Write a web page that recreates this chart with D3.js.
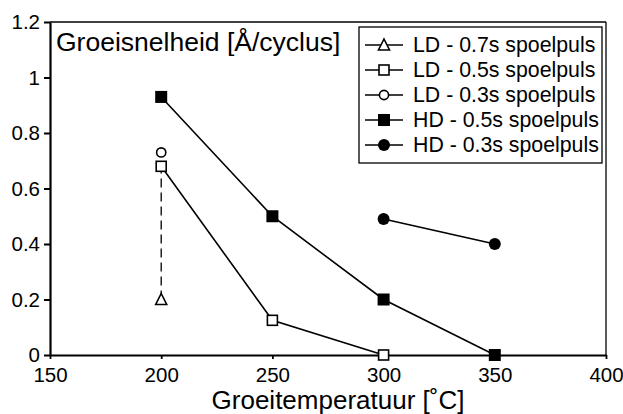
<!DOCTYPE html>
<html>
<head>
<meta charset="utf-8">
<script src="https://cdn.jsdelivr.net/npm/d3@7"></script>
<style>
  html, body { margin: 0; padding: 0; background: #fff; }
  svg { display: block; font-family: "Liberation Sans", Arial, Helvetica, sans-serif; }
</style>
</head>
<body>
<svg id="chart" width="623" height="414"></svg>
<script>
// Growth rate per cycle versus growth temperature, for several purge pulse settings
const xTicks = [150, 200, 250, 300, 350, 400];
const yTicks = [0, 0.2, 0.4, 0.6, 0.8, 1, 1.2];
const yTickLabels = ["0", "0.2", "0.4", "0.6", "0.8", "1", "1.2"];

const seriesNames = [
  "LD - 0.7s spoelpuls",
  "LD - 0.5s spoelpuls",
  "LD - 0.3s spoelpuls",
  "HD - 0.5s spoelpuls",
  "HD - 0.3s spoelpuls"
];
const seriesSymbols = ["triangle", "square", "circle", "square", "circle"];
const seriesFilled = [false, false, false, true, true];

const ld07Temp = [200];
const ld07Rate = [0.2];
const ld05Temp = [200, 250, 300];
const ld05Rate = [0.68, 0.125, 0];
const ld03Temp = [200];
const ld03Rate = [0.73];
const hd05Temp = [200, 250, 300, 350];
const hd05Rate = [0.93, 0.5, 0.2, 0];
const hd03Temp = [300, 350];
const hd03Rate = [0.49, 0.40];

// dashed link between the 0.7s and 0.5s LD measurements at 200 °C
const linkTemp = [200, 200];
const linkRate = [0.2, 0.68];

const seriesTemps = [ld07Temp, ld05Temp, ld03Temp, hd05Temp, hd03Temp];
const seriesRates = [ld07Rate, ld05Rate, ld03Rate, hd05Rate, hd03Rate];

const yTitle = "Groeisnelheid [Å/cyclus]";
const xTitle = "Groeitemperatuur [˚C]";

const svg = d3.select("#chart");
const plotLeft = 50, plotRight = 606, plotTop = 22, plotBottom = 355;

const x = d3.scaleLinear().domain([150, 400]).range([plotLeft, plotRight]);
const y = d3.scaleLinear().domain([0, 1.2]).range([plotBottom, plotTop]);

// frame: top and right
svg.append("line").attr("x1", plotLeft).attr("x2", plotRight).attr("y1", plotTop).attr("y2", plotTop)
  .attr("stroke", "#000").attr("stroke-width", 1.6);
svg.append("line").attr("x1", plotRight).attr("x2", plotRight).attr("y1", plotTop).attr("y2", plotBottom)
  .attr("stroke", "#000").attr("stroke-width", 1.3);

// axes
const yAxis = d3.axisLeft(y).tickValues(yTicks)
  .tickFormat((d, i) => yTickLabels[i]).tickSizeInner(6).tickSizeOuter(0).tickPadding(4);
const gy = svg.append("g").attr("transform", `translate(${plotLeft},0)`).call(yAxis);
gy.select(".domain").attr("stroke-width", 2.2);
gy.selectAll(".tick line").attr("stroke-width", 2);
gy.selectAll(".tick text").attr("font-size", 20.5).attr("fill", "#000")
  .attr("font-family", "Liberation Sans, Arial, sans-serif");

const xAxis = d3.axisBottom(x).tickValues(xTicks).tickFormat(d3.format("d"))
  .tickSizeInner(4).tickSizeOuter(0).tickPadding(8);
const gx = svg.append("g").attr("transform", `translate(0,${plotBottom})`).call(xAxis);
gx.select(".domain").attr("stroke-width", 2.2);
gx.selectAll(".tick line").attr("stroke-width", 1.8);
gx.selectAll(".tick text").attr("font-size", 20.5).attr("fill", "#000")
  .attr("font-family", "Liberation Sans, Arial, sans-serif");

// titles
svg.append("text").attr("x", 56).attr("y", 51).attr("font-size", 26.5).attr("fill", "#000")
  .text(yTitle);
svg.append("text").attr("x", (x(150) + x(400)) / 2 + 10).attr("y", 409)
  .attr("text-anchor", "middle").attr("font-size", 26).attr("fill", "#000").text(xTitle);

// dashed link
svg.append("path")
  .attr("d", d3.line().x(d => x(d[0])).y(d => y(d[1]))(linkTemp.map((t, i) => [t, linkRate[i]])))
  .attr("fill", "none").attr("stroke", "#000").attr("stroke-width", 1.3)
  .attr("stroke-dasharray", "9,5");

const line = d3.line().x(d => x(d[0])).y(d => y(d[1]));

function drawMarker(g, cx, cy, sym, filled) {
  if (sym === "square") {
    const s = filled ? 12 : 10;
    g.append("rect").attr("x", cx - s / 2).attr("y", cy - s / 2).attr("width", s).attr("height", s)
      .attr("fill", filled ? "#000" : "#fff").attr("stroke", "#000")
      .attr("stroke-width", filled ? 0 : 1.6);
  } else if (sym === "circle") {
    const r = filled ? 6 : 4.6;
    g.append("circle").attr("cx", cx).attr("cy", cy).attr("r", r)
      .attr("fill", filled ? "#000" : "#fff").attr("stroke", "#000")
      .attr("stroke-width", filled ? 0 : 1.6);
  } else {
    const h = 10, w = 11;
    g.append("path")
      .attr("d", `M${cx},${cy - h / 2 - 1}L${cx + w / 2},${cy + h / 2}L${cx - w / 2},${cy + h / 2}Z`)
      .attr("fill", filled ? "#000" : "#fff").attr("stroke", "#000").attr("stroke-width", 1.6)
      .attr("stroke-linejoin", "miter");
  }
}

// series lines then markers
seriesNames.forEach((name, i) => {
  const pts = seriesTemps[i].map((t, j) => [t, seriesRates[i][j]]);
  if (pts.length > 1) {
    svg.append("path").attr("d", line(pts)).attr("fill", "none")
      .attr("stroke", "#000").attr("stroke-width", 1.6);
  }
});
seriesNames.forEach((name, i) => {
  const g = svg.append("g");
  seriesTemps[i].forEach((t, j) => {
    drawMarker(g, x(t), y(seriesRates[i][j]), seriesSymbols[i], seriesFilled[i]);
  });
});

// legend
const lg = svg.append("g");
lg.append("rect").attr("x", 359).attr("y", 27).attr("width", 243).attr("height", 136)
  .attr("fill", "#fff").attr("stroke", "#000").attr("stroke-width", 1.3);
seriesNames.forEach((name, i) => {
  const cy = 45 + i * 25;
  lg.append("line").attr("x1", 365).attr("x2", 403).attr("y1", cy).attr("y2", cy)
    .attr("stroke", "#000").attr("stroke-width", 1.6);
  drawMarker(lg, 384, cy, seriesSymbols[i], seriesFilled[i]);
  lg.append("text").attr("x", 413).attr("y", cy + 7).attr("font-size", 21.3).attr("fill", "#000")
    .text(name);
});
</script>
</body>
</html>
